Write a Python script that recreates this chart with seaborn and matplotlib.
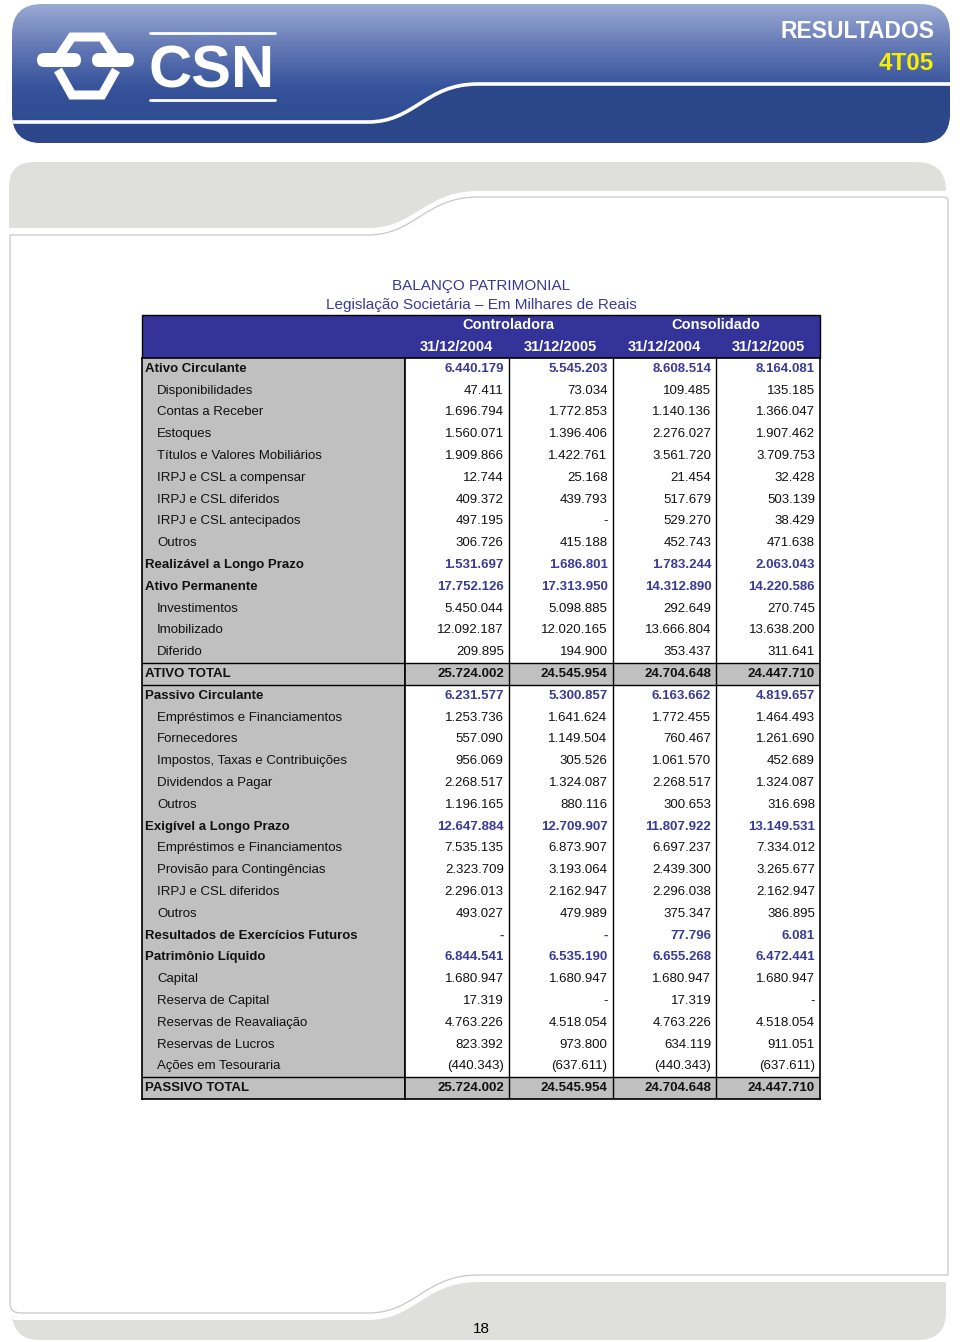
import numpy as np
import matplotlib
matplotlib.use("Agg")
import matplotlib.pyplot as plt
import seaborn as sns
from matplotlib.patches import FancyBboxPatch, Rectangle, PathPatch
from matplotlib.path import Path
from matplotlib.colors import ListedColormap, LinearSegmentedColormap
from matplotlib.font_manager import fontManager

sns.set_theme(style="white")
plt.rcParams["font.family"] = ["Liberation Sans", "DejaVu Sans"]
installed = {f.name for f in fontManager.ttflist}
NARROW = "Liberation Sans Narrow" if "Liberation Sans Narrow" in installed else "Liberation Sans"

# ---- data -------------------------------------------------------------
labels = [
    "Ativo Circulante", "Disponibilidades", "Contas a Receber", "Estoques",
    "Títulos e Valores Mobiliários", "IRPJ e CSL a compensar", "IRPJ e CSL diferidos",
    "IRPJ e CSL antecipados", "Outros", "Realizável a Longo Prazo", "Ativo Permanente",
    "Investimentos", "Imobilizado", "Diferido", "ATIVO TOTAL", "Passivo Circulante",
    "Empréstimos e Financiamentos", "Fornecedores", "Impostos, Taxas e Contribuições",
    "Dividendos a Pagar", "Outros", "Exigível a Longo Prazo", "Empréstimos e Financiamentos",
    "Provisão para Contingências", "IRPJ e CSL diferidos", "Outros",
    "Resultados de Exercícios Futuros", "Patrimônio Líquido", "Capital", "Reserva de Capital",
    "Reservas de Reavaliação", "Reservas de Lucros", "Ações em Tesouraria", "PASSIVO TOTAL",
]
# sec = group heading, sub = detail line, tot = total line
levels = ["sec"] + ["sub"] * 8 + ["sec", "sec"] + ["sub"] * 3 + ["tot", "sec"] + ["sub"] * 5 + \
         ["sec"] + ["sub"] * 4 + ["sec", "sec"] + ["sub"] * 5 + ["tot"]

ctrl_2004 = [6440179, 47411, 1696794, 1560071, 1909866, 12744, 409372, 497195, 306726,
             1531697, 17752126, 5450044, 12092187, 209895, 25724002, 6231577, 1253736,
             557090, 956069, 2268517, 1196165, 12647884, 7535135, 2323709, 2296013, 493027,
             None, 6844541, 1680947, 17319, 4763226, 823392, -440343, 25724002]
ctrl_2005 = [5545203, 73034, 1772853, 1396406, 1422761, 25168, 439793, None, 415188,
             1686801, 17313950, 5098885, 12020165, 194900, 24545954, 5300857, 1641624,
             1149504, 305526, 1324087, 880116, 12709907, 6873907, 3193064, 2162947, 479989,
             None, 6535190, 1680947, None, 4518054, 973800, -637611, 24545954]
cons_2004 = [8608514, 109485, 1140136, 2276027, 3561720, 21454, 517679, 529270, 452743,
             1783244, 14312890, 292649, 13666804, 353437, 24704648, 6163662, 1772455,
             760467, 1061570, 2268517, 300653, 11807922, 6697237, 2439300, 2296038, 375347,
             77796, 6655268, 1680947, 17319, 4763226, 634119, -440343, 24704648]
cons_2005 = [8164081, 135185, 1366047, 1907462, 3709753, 32428, 503139, 38429, 471638,
             2063043, 14220586, 270745, 13638200, 311641, 24447710, 4819657, 1464493,
             1261690, 452689, 1324087, 316698, 13149531, 7334012, 3265677, 2162947, 386895,
             6081, 6472441, 1680947, None, 4518054, 911051, -637611, 24447710]
groups = ["Controladora", "Consolidado"]
dates = ["31/12/2004", "31/12/2005", "31/12/2004", "31/12/2005"]


def fmt(v):
    if v is None:
        return "-"
    s = f"{abs(v):,}".replace(",", ".")
    return f"({s})" if v < 0 else s


# ---- page -------------------------------------------------------------
W, H = 960, 1342
BLUE = "#333399"
TXT_BLUE = "#3a3a96"
GRAY = "#c0c0c0"
BAND = "#dfdfdc"

fig = plt.figure(figsize=(W / 100, H / 100), dpi=100)
page = fig.add_axes([0, 0, 1, 1])
page.set_xlim(0, W)
page.set_ylim(H, 0)
page.axis("off")


def fig_rect(x0, y0, x1, y1):
    return [x0 / W, 1 - y1 / H, (x1 - x0) / W, (y1 - y0) / H]


# banner
banner = FancyBboxPatch((12, 4), 938, 139, boxstyle="round,pad=0,rounding_size=30",
                        fc="none", ec="none")
page.add_patch(banner)
cmap_b = LinearSegmentedColormap.from_list(
    "banner", [(0, "#9aaad3"), (0.3, "#6579b6"), (0.6, "#36539b"), (1, "#2b488c")])
im = page.imshow(np.linspace(0, 1, 256).reshape(-1, 1), cmap=cmap_b,
                 extent=(12, 950, 143, 4), aspect="auto", origin="upper")
im.set_clip_path(banner)
C4, L2 = Path.CURVE4, Path.LINETO
low = Path([(0, 123), (368, 123), (415, 123), (425, 84), (478, 84), (960, 84), (960, 150),
            (0, 150), (0, 123)],
           [Path.MOVETO, L2, C4, C4, C4, L2, L2, L2, Path.CLOSEPOLY])
p = PathPatch(low, fc="#2b4689", ec="none")
page.add_patch(p)
p.set_clip_path(banner)
edge = Path([(0, 122), (368, 122), (415, 122), (425, 84), (478, 84), (960, 84)],
            [Path.MOVETO, L2, C4, C4, C4, L2])
p = PathPatch(edge, fc="none", ec="white", lw=2.6)
page.add_patch(p)
p.set_clip_path(banner)

# logo
page.plot([58, 72, 102, 116], [58, 37, 37, 58], color="white", lw=6.5,
          solid_joinstyle="miter", solid_capstyle="butt")
page.plot([58, 72, 102, 116], [70, 95, 95, 70], color="white", lw=6.5,
          solid_joinstyle="miter", solid_capstyle="butt")
page.add_patch(FancyBboxPatch((37, 53), 44, 14, boxstyle="round,pad=0,rounding_size=7",
                              fc="white", ec="none"))
page.add_patch(FancyBboxPatch((92, 53), 42, 14, boxstyle="round,pad=0,rounding_size=7",
                              fc="white", ec="none"))
page.plot([150, 275], [33, 33], color="white", lw=2)
page.plot([150, 275], [100, 100], color="white", lw=2)
page.text(212, 72, "CSN", family=NARROW, fontweight="bold", fontsize=43, color="white",
          ha="center", va="center")
page.text(935, 32, "RESULTADOS", family=NARROW, fontweight="bold", fontsize=16.5,
          color="white", ha="right", va="center")
page.text(934, 63, "4T05", family=NARROW, fontweight="bold", fontsize=17.5,
          color="#f4f000", ha="right", va="center")

# grey band, top
Q3 = Path.CURVE3
top_band = Path(
    [(9, 228), (9, 187), (9, 162), (34, 162), (916, 162), (946, 162), (946, 191),
     (478, 191), (425, 191), (415, 228), (368, 228), (9, 228)],
    [Path.MOVETO, L2, Q3, Q3, L2, Q3, Q3, L2, C4, C4, C4, Path.CLOSEPOLY])
page.add_patch(PathPatch(top_band, fc=BAND, ec="none"))

# content frame
frame = Path(
    [(10, 1303), (10, 235), (368, 235), (415, 235), (425, 197), (478, 197), (944, 197),
     (948, 197), (948, 201), (948, 1275), (478, 1275), (425, 1275), (415, 1313),
     (368, 1313), (20, 1313), (10, 1313), (10, 1303)],
    [Path.MOVETO, L2, L2, C4, C4, C4, L2, Q3, Q3, L2, L2, C4, C4, C4, L2, Q3, Q3])
page.add_patch(PathPatch(frame, fc="white", ec="#c8c8c8", lw=0.9))

# grey band, bottom
bottom_band = Path(
    [(12, 1320), (368, 1320), (415, 1320), (425, 1282), (478, 1282), (946, 1282),
     (946, 1312), (946, 1340), (918, 1340), (40, 1340), (12, 1340), (12, 1312), (12, 1320)],
    [Path.MOVETO, L2, C4, C4, C4, L2, L2, Q3, Q3, L2, Q3, Q3, Path.CLOSEPOLY])
page.add_patch(PathPatch(bottom_band, fc=BAND, ec="none"))
page.text(481, 1329, "18", fontsize=11, color="black", ha="center", va="center")

# titles
page.text(481, 286, "BALANÇO PATRIMONIAL", fontsize=11, color=TXT_BLUE,
          ha="center", va="center", fontweight="medium")
page.text(481, 305, "Legislação Societária – Em Milhares de Reais", fontsize=11,
          color=TXT_BLUE, ha="center", va="center")

# header block
TX0, TX1, LX1 = 142, 820, 405
HY0, HY1, TY1 = 315, 358, 1099
col_w = (TX1 - LX1) / 4
page.add_patch(Rectangle((TX0, HY0), TX1 - TX0, HY1 - HY0, fc=BLUE, ec="black", lw=1))
for g, name in enumerate(groups):
    page.text(LX1 + col_w * (2 * g + 1), 325, name, color="white", fontsize=10.5,
              fontweight="bold", ha="center", va="center")
for c, d in enumerate(dates):
    page.text(LX1 + col_w * (c + 0.5), 347, d, color="white", fontsize=10.5,
              fontweight="bold", ha="center", va="center")

# ---- table body -------------------------------------------------------
n = len(labels)
totals = [i for i, l in enumerate(levels) if l == "tot"]

lax = fig.add_axes(fig_rect(TX0, HY1, LX1, TY1))
sns.heatmap(np.zeros((n, 1)), cmap=ListedColormap([GRAY]), cbar=False, ax=lax,
            xticklabels=False, yticklabels=False)
lw_px = LX1 - TX0
for i, (lab, lvl) in enumerate(zip(labels, levels)):
    x = (3 if lvl != "sub" else 15) / lw_px
    lax.text(x, i + 0.5, lab, fontsize=9.5, ha="left", va="center", color="#111111",
             fontweight="bold" if lvl != "sub" else "normal")

values = np.array([ctrl_2004, ctrl_2005, cons_2004, cons_2005], dtype=object).T
annot = np.vectorize(fmt, otypes=[object])(values)
shade = np.array([[1.0 if l == "tot" else 0.0] * 4 for l in levels])

vax = fig.add_axes(fig_rect(LX1, HY1, TX1, TY1))
sns.heatmap(shade, cmap=ListedColormap(["white", GRAY]), vmin=0, vmax=1, cbar=False,
            annot=annot, fmt="", annot_kws={"fontsize": 9.5}, ax=vax,
            xticklabels=False, yticklabels=False)
for t in vax.texts:
    x, y = t.get_position()
    r, c = int(y), int(x)
    t.set_x(c + 1 - 5 / col_w)
    t.set_ha("right")
    if levels[r] == "sec":
        t.set_color(TXT_BLUE)
        t.set_fontweight("bold")
    elif levels[r] == "tot":
        t.set_color("#111111")
        t.set_fontweight("bold")
    else:
        t.set_color("#111111")

for c in range(1, 4):
    vax.axvline(c, color="black", lw=1)
for ax in (lax, vax):
    for r in totals:
        ax.axhline(r, color="black", lw=1)
        ax.axhline(r + 1, color="black", lw=1)
    for s in ax.spines.values():
        s.set_visible(True)
        s.set_color("black")
        s.set_linewidth(1.2)

fig.savefig("out.png", dpi=100)
